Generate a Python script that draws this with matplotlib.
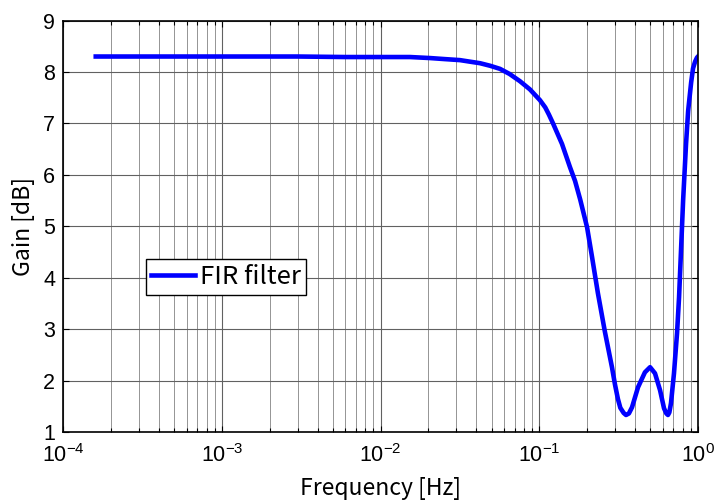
import matplotlib
matplotlib.use("Agg")
import matplotlib.pyplot as plt
from matplotlib.ticker import LogLocator, NullFormatter

plt.rcParams['font.family'] = ['Liberation Sans', 'DejaVu Sans']
plt.rcParams['mathtext.fontset'] = 'custom'
plt.rcParams['mathtext.rm'] = 'Liberation Sans'
plt.rcParams['mathtext.it'] = 'Liberation Sans'
plt.rcParams['mathtext.default'] = 'regular'

gothic = ['Noto Sans CJK JP', 'DejaVu Sans']

# Magnitude response of the FIR filter (frequency in Hz, gain in dB)
freq = [1.6e-4, 3e-4, 1e-3, 3e-3, 6e-3, 0.0153, 0.0205, 0.0253, 0.0316,
        0.0365, 0.0423, 0.049, 0.0565, 0.065, 0.0755, 0.0873, 0.101,
        0.109, 0.115, 0.122, 0.139, 0.156, 0.168, 0.181, 0.200, 0.215,
        0.234, 0.259, 0.287, 0.300, 0.313, 0.324, 0.340, 0.352, 0.367,
        0.384, 0.419, 0.463, 0.499, 0.536, 0.577, 0.611, 0.632, 0.647,
        0.660, 0.676, 0.706, 0.738, 0.760, 0.806, 0.841, 0.867, 0.906,
        0.931, 0.959, 0.986, 1.0]
gain = [8.30, 8.30, 8.30, 8.30, 8.29, 8.29, 8.27, 8.25, 8.23,
        8.20, 8.17, 8.12, 8.06, 7.96, 7.82, 7.66, 7.45,
        7.31, 7.17, 7.00, 6.60, 6.15, 5.88, 5.52, 4.98, 4.40,
        3.70, 2.95, 2.26, 1.92, 1.64, 1.47, 1.37, 1.33, 1.36,
        1.48, 1.87, 2.16, 2.26, 2.14, 1.81, 1.46, 1.36, 1.33,
        1.38, 1.56, 2.14, 2.92, 3.62, 5.50, 6.60, 7.24, 7.80,
        8.07, 8.20, 8.28, 8.30]

x_ticks = [1e-4, 1e-3, 1e-2, 1e-1, 1e0]
x_ticklabels = ['$10^{-4}$', '$10^{-3}$', '$10^{-2}$', '$10^{-1}$', '$10^{0}$']
y_ticks = [1, 2, 3, 4, 5, 6, 7, 8, 9]

fig = plt.figure(figsize=(7.2, 5.04), dpi=100)
ax = fig.add_axes([0.088, 0.1429, 0.8814, 0.8164])

ax.semilogx(freq, gain, color='#0000ff', linewidth=3.3, label='FIR filter',
            solid_joinstyle='round')

ax.set_xlim(1e-4, 1)
ax.set_ylim(1, 9)
ax.set_xticks(x_ticks)
ax.set_xticklabels(x_ticklabels)
ax.xaxis.set_minor_locator(LogLocator(base=10, subs=range(2, 10), numticks=20))
ax.xaxis.set_minor_formatter(NullFormatter())
ax.set_yticks(y_ticks)

ax.tick_params(axis='both', which='both', direction='in', top=True, right=True,
               labelsize=15.5, width=0.8, color='black')
ax.tick_params(axis='x', which='major', length=4, pad=9)
ax.tick_params(axis='y', which='major', length=4, pad=6)
ax.tick_params(axis='x', which='minor', length=3)

ax.grid(True, which='major', axis='both', color='0.38', linewidth=0.8, linestyle='-')
ax.grid(True, which='minor', axis='x', color='0.58', linewidth=0.7, linestyle='-')
ax.set_axisbelow(True)
for s in ax.spines.values():
    s.set_linewidth(1.2)

ax.set_xlabel('Frequency [Hz]', fontsize=16.5, family=gothic, labelpad=7)
ax.set_ylabel('Gain [dB]', fontsize=16.5, family=gothic, labelpad=6)

leg = ax.legend(loc='upper left', bbox_to_anchor=(0.130, 0.42),
                prop={'family': gothic, 'size': 18.5},
                frameon=True, fancybox=False, edgecolor='black', framealpha=1,
                borderpad=0.2, handlelength=1.7, handletextpad=0.2,
                borderaxespad=0)
leg.get_frame().set_linewidth(1.0)

fig.savefig('out.png', dpi=100)
